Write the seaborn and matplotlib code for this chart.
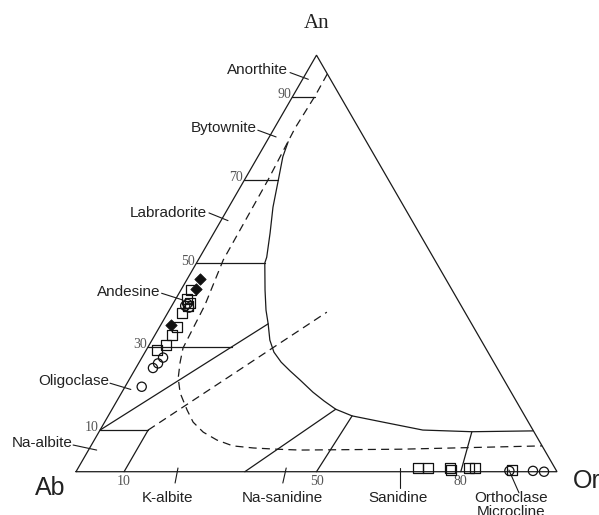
import numpy as np
import pandas as pd
import matplotlib
matplotlib.use("Agg")
import matplotlib.pyplot as plt
import seaborn as sns

# ---------------- feldspar analyses (mol %) ----------------
diamond_an = [46.2, 43.9, 35.2]
diamond_or = [2.7, 3.1, 2.1]

square_an = [43.6, 41.5, 40.5, 39.8, 38.1, 34.8, 32.8, 30.4, 29.2,
             0.8, 0.8, 0.9, 0.5, 0.8, 0.8, 0.3]
square_or = [2.1, 2.25, 3.55, 3.4, 2.9, 3.5, 3.5, 3.45, 2.2,
             70.7, 72.8, 77.3, 77.7, 81.3, 82.45, 90.4]

circle_an = [39.8, 40.3, 39.4, 27.4, 26.0, 24.9, 20.4, 0.2, 0.2, 0.0]
circle_or = [2.8, 3.0, 3.8, 4.4, 4.05, 3.55, 3.46, 90.0, 94.9, 97.3]

# ---------------- field boundaries (An, Or in %) ----------------
solvus_an = [79.2, 75.6, 70.0, 63.5, 57.3, 51.5, 50.1, 43.6, 38.8, 35.5,
             31.6, 28.7, 26.3, 24.2, 22.0, 19.1, 16.97, 15.0, 13.4, 11.9,
             10.0, 9.6, 9.8]
solvus_or = [4.5, 5.2, 7.06, 9.2, 11.7, 13.9, 14.2, 17.5, 20.1, 22.2,
             24.5, 26.8, 29.5, 32.4, 35.6, 39.7, 43.1, 46.5, 50.7, 57.9,
             67.1, 77.5, 90.1]

dashed_an = [95.5, 90.4, 82.5, 70.0, 50.8, 40.0, 29.7, 26.3, 22.5, 18.9, 14.8,
             11.9, 9.5, 7.6, 6.2, 5.7, 5.4, 5.2, 5.4, 6.2]
dashed_or = [4.5, 4.6, 4.3, 4.9, 5.2, 6.8, 7.4, 8.5, 10.0, 12.2, 15.7,
             18.4, 21.7, 25.5, 29.5, 34.0, 39.1, 44.0, 64.7, 93.8]

# straight field divisions: (An1, Or1, An2, Or2)
solid_segments = [
    (90, 0, 90, 4.6),
    (70, 0, 70, 7.06),
    (50, 0, 50, 14.2),
    (30, 0, 30, 17.4),
    (10, 0, 10, 10),
    (0, 10, 10, 10),
    (10, 0, 35.5, 22.2),
    (0, 35.1, 15.0, 46.5),
    (0, 50, 13.4, 50.7),
    (0, 80, 9.6, 77.5),
]
dashed_segments = [(10, 10, 38.3, 33.0)]

left_ticks = [90, 70, 50, 30, 10]
base_ticks = [10, 50, 80]

# mineral names: (text, x, y) and leader lines (x1, y1, x2, y2) in plot units
names = [
    ("Anorthite", 37.8, 83.5), ("Bytownite", 30.7, 71.4),
    ("Labradorite", 19.1, 53.8), ("Andesine", 10.9, 37.4),
    ("Oligoclase", -0.5, 18.9), ("Na-albite", -7.0, 5.9),
    ("K-albite", 19.1, -5.5), ("Na-sanidine", 43.0, -5.5),
    ("Sanidine", 66.9, -5.5), ("Orthoclase", 90.4, -5.5),
    ("Microcline", 90.4, -8.3),
]
leaders = [
    (44.5, 82.98, 48.3, 81.58), (37.8, 71.0, 41.6, 69.6),
    (27.65, 53.8, 31.6, 52.2), (17.8, 37.1, 22.2, 35.7),
    (7.07, 18.4, 11.4, 17.1), (-0.6, 5.55, 4.3, 4.5),
    (21.2, 0.77, 20.6, -2.35), (43.7, 0.77, 43.0, -2.35),
    (67.4, 0.77, 67.4, -3.4), (90.0, 0.35, 92.1, -4.4),
]

S3 = np.sqrt(3) / 2


def tern(an, or_):
    an = np.asarray(an, dtype=float)
    or_ = np.asarray(or_, dtype=float)
    return or_ + an / 2.0, an * S3


sns.set_style("white")
fig = plt.figure(figsize=(5.99, 5.15), dpi=100)
ax = fig.add_axes([0, 0, 1, 1])
ax.set_xlim(-15.8, 108.73)
ax.set_ylim(-9.0, 98.07)
ax.set_axis_off()

LC = "#1a1a1a"
LW = 0.9
DASH = (0, (6.4, 4.2))
sans = ["Liberation Sans", "DejaVu Sans"]
serif = ["Liberation Serif", "DejaVu Serif"]

# triangle
tx, ty = tern([0, 100, 0, 0], [0, 0, 100, 0])
ax.plot(tx, ty, color=LC, lw=LW, solid_joinstyle="miter")

# curved boundaries
x, y = tern(solvus_an, solvus_or)
ax.plot(x, y, color=LC, lw=LW)
x, y = tern(dashed_an, dashed_or)
ax.plot(x, y, color=LC, lw=LW, linestyle=DASH)

for a1, o1, a2, o2 in solid_segments:
    x, y = tern([a1, a2], [o1, o2])
    ax.plot(x, y, color=LC, lw=LW)
for a1, o1, a2, o2 in dashed_segments:
    x, y = tern([a1, a2], [o1, o2])
    ax.plot(x, y, color=LC, lw=LW, linestyle=DASH)

# tick labels
for v in left_ticks:
    x, y = tern(v, 0)
    ax.text(x - 0.25, y + 0.45, str(v), ha="right", va="center",
            fontsize=10, family=serif, color="#555555")
for v in base_ticks:
    ax.text(v, -1.95, str(v), ha="center", va="center",
            fontsize=10, family=serif, color="#555555")

# apex labels
ax.text(50.1, 93.1, "An", ha="center", va="center", fontsize=15,
        family=serif, color="#222222")
ax.text(-5.4, -3.4, "Ab", ha="center", va="center", fontsize=18,
        family=sans, color="#222222")
ax.text(103.3, -1.9, "Or", ha="left", va="center", fontsize=18,
        family=sans, color="#222222")

for txt, x, y in names:
    ax.text(x, y, txt, ha="center", va="center", fontsize=11,
            family=sans, color="#222222")
for x1, y1, x2, y2 in leaders:
    ax.plot([x1, x2], [y1, y2], color=LC, lw=0.8)

# data points
x, y = tern(square_an, square_or)
sns.scatterplot(x=x, y=y, marker="s", s=52, facecolors="none",
                edgecolor="#111111", linewidth=0.9, ax=ax, zorder=5)
x, y = tern(circle_an, circle_or)
sns.scatterplot(x=x, y=y, marker="o", s=44, facecolors="none",
                edgecolor="#111111", linewidth=0.9, ax=ax, zorder=5)
x, y = tern(diamond_an, diamond_or)
sns.scatterplot(x=x, y=y, marker="D", s=34, color="#111111",
                edgecolor="#111111", linewidth=0.5, ax=ax, zorder=6)

fig.savefig("out.png", dpi=100)
